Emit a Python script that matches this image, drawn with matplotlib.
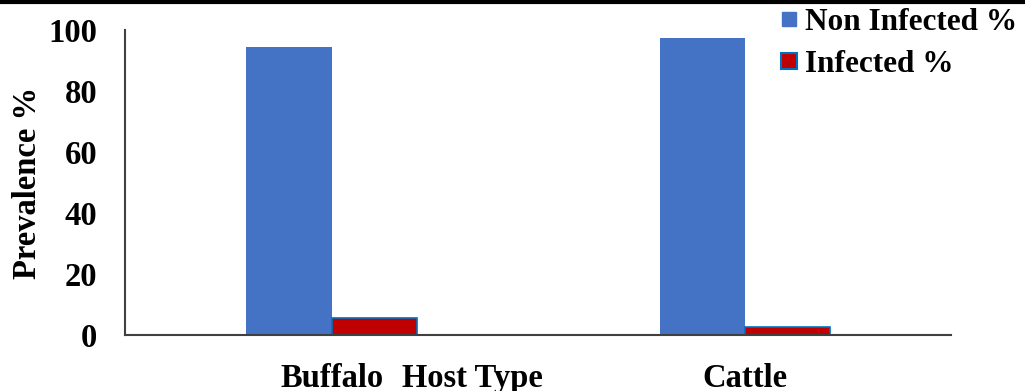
import numpy as np
import matplotlib.pyplot as plt
from matplotlib.lines import Line2D

hosts = ["Buffalo", "Cattle"]
non_infected = [94.4, 97.4]
infected = [5.6, 2.6]
y_ticks = [0, 20, 40, 60, 80, 100]

BLUE = "#4472C4"
RED = "#C00000"
EDGE = "#0070C0"
AXIS = "#404040"
FS = 23.5

plt.rcParams["font.family"] = ["Liberation Serif", "DejaVu Serif"]
plt.rcParams["font.weight"] = "bold"

fig = plt.figure(figsize=(10.25, 3.91), dpi=100)
ax = fig.add_axes([0.122, 0.143, 0.806, 0.780])

x = np.arange(len(hosts))
w = 0.206
ax.bar(x - w, non_infected, width=w, align="edge", color=BLUE, label="Non Infected %", zorder=2)
ax.bar(x, infected, width=w, align="edge", color=RED, edgecolor=EDGE, linewidth=1.2,
       label="Infected %", zorder=2)

ax.set_xlim(-0.5, 1.5)
ax.set_ylim(0, 100)
ax.set_xticks(x)
ax.set_xticklabels(hosts)
ax.set_yticks(y_ticks)
ax.tick_params(axis="both", length=0, labelsize=FS, colors="black")
ax.tick_params(axis="y", pad=20)
ax.tick_params(axis="x", pad=20)
for lab in ax.get_xticklabels() + ax.get_yticklabels():
    lab.set_fontweight("bold")

for side in ("top", "right"):
    ax.spines[side].set_visible(False)
for side in ("left", "bottom"):
    ax.spines[side].set_color(AXIS)
    ax.spines[side].set_linewidth(1.5)

ax.set_ylabel("Prevalence %", fontsize=FS, fontweight="bold")
ax.yaxis.set_label_coords(-0.099, 0.5)
ax.set_xlabel("Host Type", fontsize=FS, fontweight="bold")
ax.xaxis.set_label_coords(0.42, -0.093)

handles = [
    Line2D([], [], marker="s", linestyle="none", markersize=10, markerfacecolor=BLUE,
           markeredgecolor=BLUE),
    Line2D([], [], marker="s", linestyle="none", markersize=11, markerfacecolor=RED,
           markeredgecolor=EDGE, markeredgewidth=1.5),
]
fig.legend(handles, ["Non Infected %", "Infected %"], loc="upper left",
           bbox_to_anchor=(0.742, 1.028), frameon=False,
           prop={"weight": "bold", "size": 22.5}, handlelength=0.63, handletextpad=0.2,
           labelspacing=0.42, borderaxespad=0.2)

# heavy rule across the top edge
fig.add_artist(Line2D([0, 1], [0.995, 0.995], transform=fig.transFigure,
                      color="black", linewidth=3))

fig.savefig("out.png", dpi=100)
